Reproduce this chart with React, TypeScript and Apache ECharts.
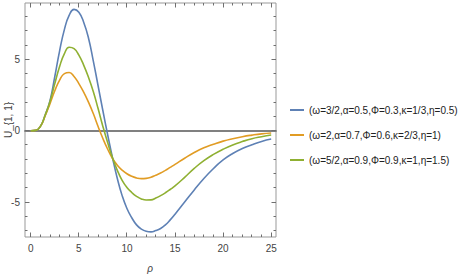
import React, { useEffect, useRef } from "react";
import * as echarts from "echarts";

const rho = [0, 0.5, 1, 1.5, 2, 2.5, 3, 3.5, 4, 4.5, 5, 5.5, 6, 6.5, 7, 7.5, 8, 8.5, 9, 9.5, 10, 10.5, 11, 11.5, 12, 12.5, 13, 13.5, 14, 14.5, 15, 16, 17, 18, 19, 20, 21, 22, 23, 24, 25];

const blue = [0, 0.02, 0.3, 1.1, 2.1, 3.8, 5.6, 7.1, 8.1, 8.5, 8.3, 7.6, 6.5, 4.9, 3.15, 1.4, -0.3, -1.9, -3.35, -4.55, -5.45, -6.1, -6.6, -6.9, -7.05, -7.09, -7.0, -6.85, -6.6, -6.25, -5.85, -5.0, -4.15, -3.35, -2.65, -2.05, -1.6, -1.25, -0.98, -0.75, -0.58];

const orange = [0, 0.02, 0.3, 1.05, 1.9, 2.8, 3.55, 4.0, 4.08, 3.8, 3.3, 2.7, 2.0, 1.2, 0.3, -0.55, -1.3, -1.95, -2.42, -2.76, -3.02, -3.2, -3.31, -3.36, -3.34, -3.26, -3.12, -2.97, -2.78, -2.57, -2.36, -1.93, -1.53, -1.2, -0.95, -0.73, -0.56, -0.42, -0.31, -0.22, -0.16];

const green = [0, 0.02, 0.3, 1.1, 2.05, 3.3, 4.5, 5.4, 5.85, 5.75, 5.3, 4.6, 3.75, 2.75, 1.55, 0.3, -0.85, -1.9, -2.78, -3.48, -3.98, -4.33, -4.6, -4.78, -4.86, -4.85, -4.72, -4.55, -4.35, -4.12, -3.87, -3.27, -2.64, -2.1, -1.66, -1.3, -1.0, -0.76, -0.56, -0.42, -0.3];

const seriesNames = [
  "(ω=3/2,α=0.5,Φ=0.3,κ=1/3,η=0.5)",
  "(ω=2,α=0.7,Φ=0.6,κ=2/3,η=1)",
  "(ω=5/2,α=0.9,Φ=0.9,κ=1,η=1.5)",
];
const seriesColors = ["#5E81B5", "#E19C24", "#8FB032"];

const xMajor = [0, 5, 10, 15, 20, 25];
const xMinor = [0, 1, 2, 3, 4, 5, 6, 7, 8, 9, 10, 11, 12, 13, 14, 15, 16, 17, 18, 19, 20, 21, 22, 23, 24, 25];
const yMajor = [-5, 0, 5];
const yMinor = [-7, -6, -5, -4, -3, -2, -1, 0, 1, 2, 3, 4, 5, 6, 7, 8];

const X_MIN = -0.6;
const X_MAX = 25.5;
const Y_MIN = -7.45;
const Y_MAX = 8.95;

const FRAME = "#999999";
const TICK = "#6f6f6f";
const FONT = "Liberation Sans";
const MAJOR_LEN = 4.5;
const MINOR_LEN = 2.5;

export default function App() {
  const ref = useRef<HTMLDivElement>(null);
  useEffect(() => {
    document.body.style.margin = "0";
    if (!ref.current) return;
    const chart = echarts.init(ref.current, undefined, { renderer: "svg" });
    const vals = [blue, orange, green];

    const tickStyle = { stroke: TICK, lineWidth: 1 };
    const crisp = (v: number) => Math.round(v - 0.5) + 0.5;

    const xTickData = xMinor.map((v) => [v, xMajor.includes(v) ? MAJOR_LEN : MINOR_LEN]);
    const yTickData = yMinor.map((v) => [yMajor.includes(v) ? MAJOR_LEN : MINOR_LEN, v]);

    chart.setOption({
      animation: false,
      backgroundColor: "#ffffff",
      grid: {
        left: 25,
        top: 3,
        width: 251,
        height: 234,
        containLabel: false,
        show: true,
        borderColor: FRAME,
        borderWidth: 1,
        backgroundColor: "transparent",
      },
      xAxis: [
        {
          type: "value",
          position: "bottom",
          min: X_MIN,
          max: X_MAX,
          axisLine: { show: false, onZero: false },
          axisTick: { show: false },
          axisLabel: {
            show: true,
            customValues: xMajor,
            margin: 6,
            fontSize: 10,
            fontFamily: FONT,
            color: "#444",
          },
          splitLine: { show: false },
        },
        {
          type: "value",
          position: "bottom",
          min: X_MIN,
          max: X_MAX,
          axisLine: { show: true, onZero: true, onZeroAxisIndex: 0, lineStyle: { color: "#808080", width: 1.8 } },
          axisTick: { show: false },
          axisLabel: { show: false },
          splitLine: { show: false },
        },
      ],
      yAxis: [
        {
          type: "value",
          position: "left",
          min: Y_MIN,
          max: Y_MAX,
          axisLine: { show: false, onZero: false },
          axisTick: { show: false },
          axisLabel: {
            show: true,
            customValues: yMajor,
            margin: 5,
            fontSize: 10,
            fontFamily: FONT,
            color: "#444",
          },
          splitLine: { show: false },
        },
      ],
      legend: {
        orient: "vertical",
        left: 285,
        top: 100,
        itemGap: 15,
        itemWidth: 14,
        itemHeight: 2,
        icon: "rect",
        textStyle: { fontSize: 10, fontFamily: FONT, color: "#222" },
        data: seriesNames,
      },
      graphic: [
        {
          type: "text",
          x: 8,
          y: 120,
          rotation: Math.PI / 2,
          style: {
            text: "U_{1, 1}",
            fontSize: 10,
            fontFamily: FONT,
            fill: "#444",
            align: "center",
            verticalAlign: "middle",
          },
        },
        {
          type: "text",
          x: 150,
          y: 268,
          style: {
            text: "ρ",
            fontSize: 10,
            fontStyle: "italic",
            fontFamily: FONT,
            fill: "#444",
            align: "center",
            verticalAlign: "middle",
          },
        },
      ],
      series: [
        {
          type: "custom",
          name: "xticks",
          xAxisIndex: 0,
          yAxisIndex: 0,
          silent: true,
          clip: false,
          z: 1,
          data: xTickData,
          renderItem: (params: any, api: any) => {
            const v = api.value(0);
            const len = api.value(1);
            const b = api.coord([v, Y_MIN]);
            const t = api.coord([v, Y_MAX]);
            const x = crisp(b[0]);
            return {
              type: "group",
              children: [
                { type: "line", shape: { x1: x, y1: b[1], x2: x, y2: b[1] - len }, style: tickStyle },
                { type: "line", shape: { x1: x, y1: t[1], x2: x, y2: t[1] + len }, style: tickStyle },
              ],
            };
          },
        },
        {
          type: "custom",
          name: "yticks",
          xAxisIndex: 0,
          yAxisIndex: 0,
          silent: true,
          clip: false,
          z: 1,
          data: yTickData,
          renderItem: (params: any, api: any) => {
            const len = api.value(0);
            const v = api.value(1);
            const l = api.coord([X_MIN, v]);
            const r = api.coord([X_MAX, v]);
            const y = crisp(l[1]);
            return {
              type: "group",
              children: [
                { type: "line", shape: { x1: l[0], y1: y, x2: l[0] + len, y2: y }, style: tickStyle },
                { type: "line", shape: { x1: r[0], y1: y, x2: r[0] - len, y2: y }, style: tickStyle },
              ],
            };
          },
        },
        ...seriesNames.map((name, i) => ({
          name,
          type: "line",
          xAxisIndex: 0,
          yAxisIndex: 0,
          showSymbol: false,
          symbol: "none",
          smooth: true,
          z: 3,
          color: seriesColors[i],
          lineStyle: { color: seriesColors[i], width: 1.6 },
          data: rho.map((r, k) => [r, vals[i][k]]),
        })),
      ],
    });
    return () => chart.dispose();
  }, []);
  return <div ref={ref} style={{ width: 471, height: 277 }} />;
}
